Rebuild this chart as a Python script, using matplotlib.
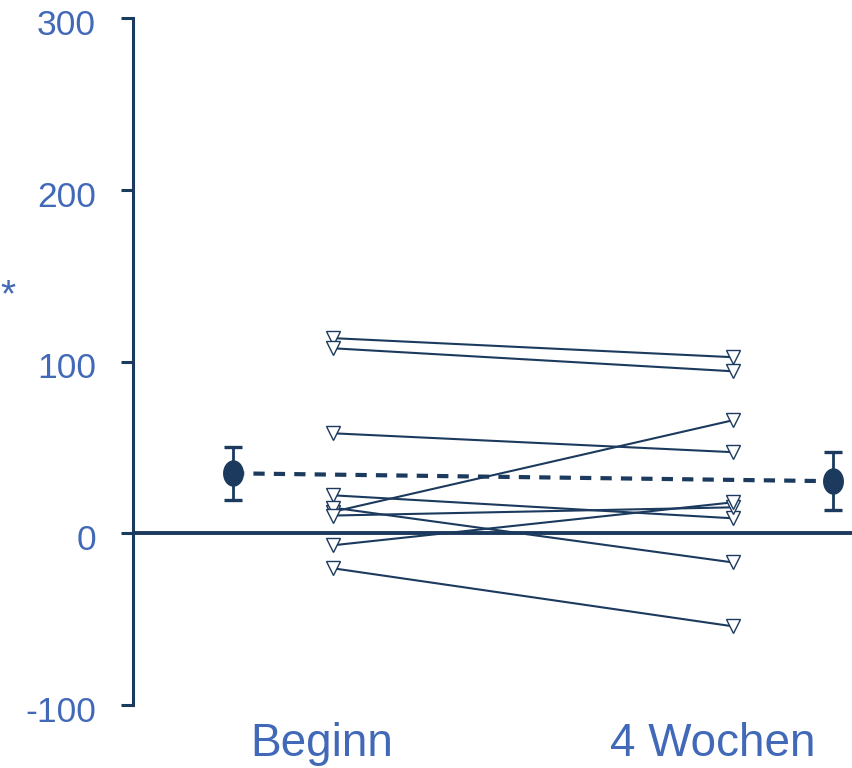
import numpy as np
import matplotlib
matplotlib.use("Agg")
import matplotlib.pyplot as plt
from matplotlib.path import Path
from matplotlib.transforms import ScaledTranslation

# ---- data ----
categories = ["Beginn", "4 Wochen"]
beginn = [113.6, 107.7, 58.2, 22.1, 12.5, 14.9, 10.3, -7.0, -20.4]
wochen = [102.5, 94.3, 47.2, 8.7, 65.8, -17.0, 15.1, 18.0, -54.2]
mean_vals = [34.9, 30.3]
err_low = [15.7, 16.9]
err_high = [15.1, 16.9]
yticks = [-100, 0, 100, 200, 300]

navy = "#1b3a5e"
blue = "#4169b8"

x_beg, x_wo = 1.0, 3.0
x_means = [0.5, 3.5]

plt.rcParams['font.family'] = ['Liberation Sans', 'DejaVu Sans']

fig = plt.figure(figsize=(8.53, 7.68), dpi=100)
ax = fig.add_axes([133/853, 1-705/768, 1-133/853, (705-18)/768])

ax.set_xlim(0, 3.6)
ax.set_ylim(-100, 300)

# zero line
ax.axhline(0, color=navy, lw=2.8, zorder=2)

# individual lines
for b, w in zip(beginn, wochen):
    ax.plot([x_beg, x_wo], [b, w], color=navy, lw=1.5, zorder=3)
ax.plot([x_beg]*len(beginn), beginn, ls='none', marker='v', ms=10.5,
        mfc='white', mec=navy, mew=1.0, zorder=4)
ax.plot([x_wo]*len(wochen), wochen, ls='none', marker='v', ms=10.5,
        mfc='white', mec=navy, mew=1.0, zorder=4)

# means
ax.plot(x_means, mean_vals, color=navy, lw=3, dashes=(2.7, 2.2), zorder=3)
t = np.linspace(0, 2*np.pi, 60)
ell = Path(np.column_stack([0.78*np.cos(t), np.sin(t)]), closed=True)
ax.errorbar(x_means, mean_vals, yerr=[err_low, err_high], fmt='none',
            ecolor=navy, elinewidth=2, capsize=6.5, capthick=2.4, zorder=4)
ax.plot(x_means, mean_vals, ls='none', marker=ell, ms=18, color=navy, zorder=5)

# axes styling
for s in ['top', 'right', 'bottom']:
    ax.spines[s].set_visible(False)
ax.spines['left'].set_color(navy)
ax.spines['left'].set_linewidth(2.2)
ax.set_yticks(yticks)
ax.set_yticklabels([str(v) for v in yticks])
ax.tick_params(axis='y', length=8.6, width=2.2, color=navy, pad=18,
               labelsize=25.5, labelcolor=blue, direction='out')
off = ScaledTranslation(0, -4/100, fig.dpi_scale_trans)
for lab in ax.get_yticklabels():
    lab.set_transform(lab.get_transform() + off)
ax.set_xticks([0.945, 2.9])
ax.set_xticklabels(categories)
ax.tick_params(axis='x', length=0, pad=12, labelsize=33, labelcolor=blue)

fig.text(0/853, 1-296/768, "*", color=blue, fontsize=28, ha='left', va='center')

fig.savefig("out.png", dpi=100)
